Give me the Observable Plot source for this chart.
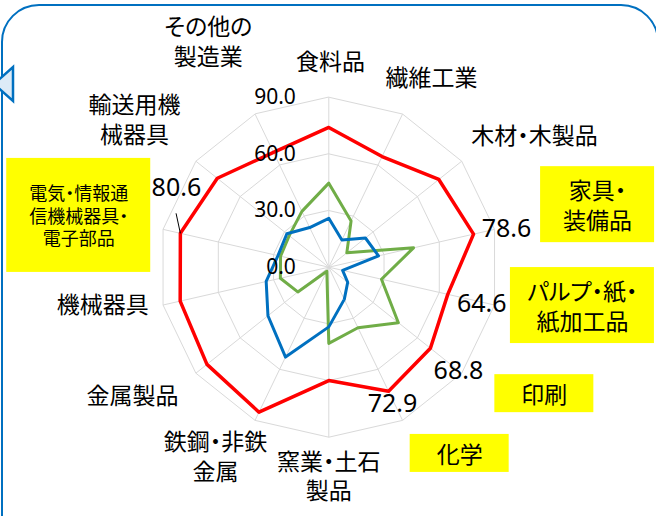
<!DOCTYPE html>
<html><head><meta charset="utf-8">
<script src="https://cdn.jsdelivr.net/npm/d3@7"></script>
<script src="https://cdn.jsdelivr.net/npm/@observablehq/plot@0.6"></script>
<style>
body{margin:0;background:#fff;overflow:hidden}
#wrap{position:relative;width:656px;height:516px;overflow:hidden;background:#fff}
#frame{position:absolute;left:1px;top:4px;width:658px;height:580px;border:2.5px solid #0070C0;border-radius:38px;box-sizing:border-box}
#tri{position:absolute;left:0;top:0}
#chart{position:absolute;left:0;top:0}
#chart svg text{font-feature-settings:"palt";}
</style></head>
<body><div id="wrap"><div id="frame"></div><svg id="tri" width="20" height="120"><polygon points="-6,84 13,67 13,101" fill="#DDEBF7" stroke="#0070C0" stroke-width="2.5"/></svg><div id="chart"></div></div>
<script>
// ---- data ----
const categories = ["食料品","繊維工業","木材・木製品","家具・\n装備品","パルプ・紙・\n紙加工品","印刷","化学","窯業・土石\n製品","鉄鋼・非鉄\n金属","金属製品","機械器具","電気・情報通\n信機械器具・\n電子部品","輸送用機\n械器具","その他の\n製造業"];
const seriesRed   = [74.0, 65.0, 74.5, 78.6, 64.6, 68.8, 72.9, 60.0, 85.2, 82.5, 80.7, 80.6, 75.5, 67.5];
const seriesGreen = [44.5, 27.2, 12.2, 46.0, 28.6, 47.1, 35.6, 40.3, 2.4, 21.0, 26.3, 26.2, 26.8, 32.8];
const seriesBlue  = [25.9, 16.0, 24.8, 27.0, 7.5, 12.8, 18.9, 31.6, 52.8, 41.2, 34.0, 27.6, 28.4, 23.3];
const tickValues = [0, 30, 60, 90];
const tickLabels = ["0.0", "30.0", "60.0", "90.0"];
const highlighted = [3, 4, 5, 6, 11];          // categories with yellow boxes
const labelledPoints = [3, 4, 5, 6, 11];       // red points with value labels

// ---- layout (not data) ----
const W = 656, H = 516;
const k = 170 / 90;            // pixels per unit
const cx = 328.3, cy = 266.7;  // pixel center
const labelAngle  = [0.5, 28.3, 57.2, 76.9, 98.6, 120.4, 144.9, 180, 211.0, 237.0, 260.9, 281.7, 307.4, 332.0];
const labelRadius = [109.4, 114.7, 129.6, 146.1, 135.8, 132.3, 120.5, 110.3, 116.4, 123.9, 121.2, 135.2, 129.5, 135.9];
const boxSize = {3: [114, 76], 4: [144, 76], 5: [99, 38], 6: [99, 38], 11: [144, 114]};
const valueOffset = {3: [33, -5], 4: [34, 10], 5: [28, 23], 6: [4, 13], 11: [-4, -45]};

const n = categories.length;
const ang = i => i * 2 * Math.PI / n;
const X = (i, v) => v * Math.sin(ang(i));
const Y = (i, v) => v * Math.cos(ang(i));
const idx = d3.range(n);

const rings = tickValues.filter(t => t > 0).flatMap(t => idx.map(i => ({t, i})));
const series = (vals, name) => vals.map((v, i) => ({name, i, v}));
const labels = idx.map(i => {
  const a = labelAngle[i] * Math.PI / 180, r = labelRadius[i];
  return {i, text: categories[i], x: r * Math.sin(a), y: r * Math.cos(a)};
});
const boxes = highlighted.map(i => {
  const L = labels[i], [w, h] = boxSize[i];
  return {x1: L.x - w / 2 / k, x2: L.x + w / 2 / k, y1: L.y - h / 2 / k, y2: L.y + h / 2 / k};
});
const valueLabels = labelledPoints.map(i => {
  const [dx, dy] = valueOffset[i];
  return {text: seriesRed[i].toFixed(1), x: X(i, seriesRed[i]) + dx / k, y: Y(i, seriesRed[i]) - dy / k};
});
const leader = [{x1: X(11, seriesRed[11]), y1: Y(11, seriesRed[11]), x2: X(11, seriesRed[11]) - 4.3 / k, y2: Y(11, seriesRed[11]) + 20 / k}];

const plot = Plot.plot({
  width: W, height: H,
  margin: 0,
  x: {domain: [-cx / k, (W - cx) / k], range: [0, W], axis: null},
  y: {domain: [-(H - cy) / k, cy / k], range: [H, 0], axis: null},
  style: {fontFamily: "'Noto Sans', 'Noto Sans CJK JP', sans-serif", background: "transparent", color: "#000"},
  marks: [
    Plot.line(rings, {x: d => X(d.i, d.t), y: d => Y(d.i, d.t), z: "t", curve: "linear-closed", stroke: "#d9d9d9", strokeWidth: 1}),
    Plot.link(idx, {x1: 0, y1: 0, x2: i => X(i, 90), y2: i => Y(i, 90), stroke: "#d9d9d9", strokeWidth: 1}),
    Plot.rect(boxes, {x1: "x1", x2: "x2", y1: "y1", y2: "y2", fill: "#FFFF00"}),
    Plot.line(series(seriesRed, "red"), {x: d => X(d.i, d.v), y: d => Y(d.i, d.v), curve: "linear-closed", stroke: "#FF0000", strokeWidth: 3.5}),
    Plot.line(series(seriesGreen, "green"), {x: d => X(d.i, d.v), y: d => Y(d.i, d.v), curve: "linear-closed", stroke: "#70AD47", strokeWidth: 3}),
    Plot.line(series(seriesBlue, "blue"), {x: d => X(d.i, d.v), y: d => Y(d.i, d.v), curve: "linear-closed", stroke: "#0070C0", strokeWidth: 3}),
    Plot.link(leader, {x1: "x1", y1: "y1", x2: "x2", y2: "y2", stroke: "#000", strokeWidth: 1}),
    Plot.text(tickValues, {x: 0, y: d => d, text: (d, j) => tickLabels[j], textAnchor: "end", dx: -33, fontSize: 21, fill: "#000"}),
    Plot.text(labels.filter(d => d.i !== 11), {x: "x", y: "y", text: "text", fontSize: 23, lineHeight: 1.27, textAnchor: "middle", lineAnchor: "middle", fill: "#000"}),
    Plot.text(labels.filter(d => d.i === 11), {x: "x", y: "y", text: "text", fontSize: 18, lineHeight: 1.25, textAnchor: "middle", lineAnchor: "middle", fill: "#000"}),
    Plot.text(valueLabels, {x: "x", y: "y", text: "text", fontSize: 25, textAnchor: "middle", lineAnchor: "middle", fill: "#000"})
  ]
});
document.getElementById("chart").appendChild(plot);
</script>
</body></html>
